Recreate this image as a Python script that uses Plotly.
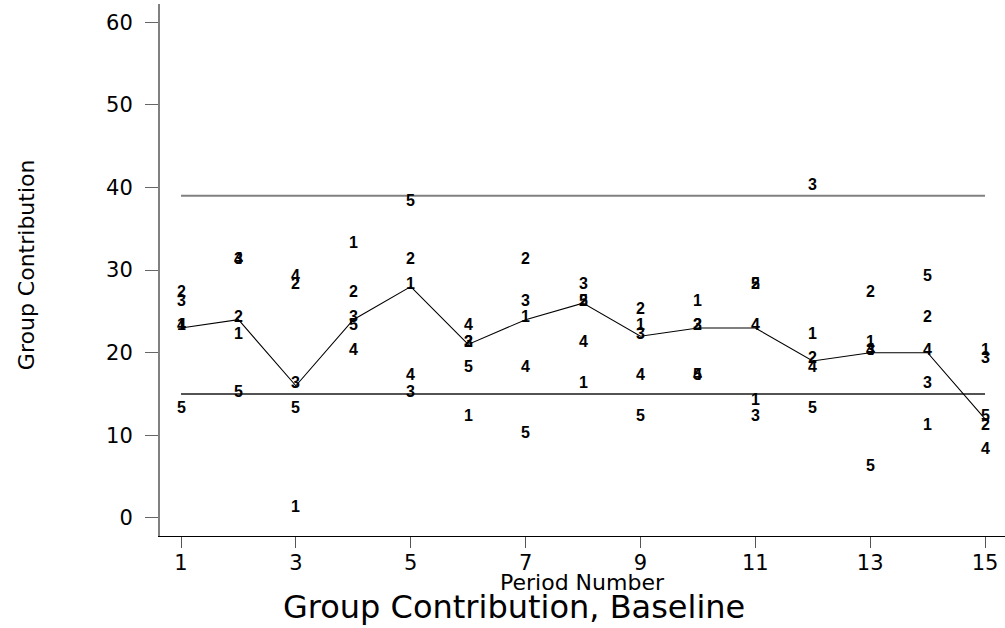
import plotly.graph_objects as go

# ---- data ----
periods = list(range(1, 16))
member_ids = ["1", "2", "3", "4", "5"]
g1 = [23, 22, 1, 33, 28, 12, 24, 16, 23, 26, 14, 22, 21, 11, 20]
g2 = [27, 24, 28, 27, 31, 21, 31, 26, 25, 23, 28, 19, 27, 24, 11]
g3 = [26, 31, 16, 24, 15, 21, 26, 28, 22, 23, 12, 40, 20, 16, 19]
g4 = [23, 31, 29, 20, 17, 23, 18, 21, 17, 17, 23, 18, 20, 20, 8]
g5 = [13, 15, 13, 23, 38, 18, 10, 26, 12, 17, 28, 13, 6, 29, 12]
median_line = [23, 24, 16, 24, 28, 21, 24, 26, 22, 23, 23, 19, 20, 20, 12]
upper_ref = 39
lower_ref = 15
ref_span = [1, 15]
y_ticks = [0, 10, 20, 30, 40, 50, 60]
x_ticks = [1, 3, 5, 7, 9, 11, 13, 15]

groups = [g1, g2, g3, g4, g5]

fig = go.Figure()

# reference lines
fig.add_trace(go.Scatter(x=ref_span, y=[upper_ref, upper_ref], mode="lines",
                         line=dict(color="#808080", width=2), hoverinfo="skip",
                         showlegend=False))
fig.add_trace(go.Scatter(x=ref_span, y=[lower_ref, lower_ref], mode="lines",
                         line=dict(color="#1a1a1a", width=1.4), hoverinfo="skip",
                         showlegend=False))
# median line
fig.add_trace(go.Scatter(x=periods, y=median_line, mode="lines",
                         line=dict(color="black", width=1.1), showlegend=False))

# member labels (placed on the data axes, nudged up a few px like the original)
label_font = dict(family="Liberation Sans", size=16, color="black", weight="bold")
annotations = []
for mid, vals in zip(member_ids, groups):
    for p, v in zip(periods, vals):
        annotations.append(dict(x=p, y=v, xref="x", yref="y", text=mid,
                                showarrow=False, xanchor="center", yanchor="middle",
                                yshift=3, font=label_font))

font_main = "DejaVu Sans"

annotations += [
    dict(text="Group Contribution", xref="paper", yref="paper", x=-0.1586, y=0.511,
         textangle=-90, showarrow=False, xanchor="center", yanchor="middle",
         font=dict(family=font_main, size=22, color="black")),
    dict(text="Period Number", xref="paper", yref="paper", x=0.5, y=-0.0883,
         showarrow=False, xanchor="center", yanchor="middle",
         font=dict(family=font_main, size=22, color="black")),
    dict(text="Group Contribution, Baseline", xref="paper", yref="paper",
         x=0.419, y=-0.1335, showarrow=False, xanchor="center", yanchor="middle",
         font=dict(family=font_main, size=32, color="black")),
]

fig.update_layout(
    width=1005, height=628,
    margin=dict(l=160, r=0, t=4, b=92, pad=0),
    plot_bgcolor="white", paper_bgcolor="white",
    showlegend=False,
    xaxis=dict(range=[0.634, 15.348], tickvals=x_ticks, showgrid=False, zeroline=False,
               showline=True, linecolor="black", linewidth=1.2,
               ticks="outside", ticklen=11, tickwidth=1, tickcolor="#555555",
               tickfont=dict(family=font_main, size=21, color="black"),
               ticklabelstandoff=-3),
    yaxis=dict(range=[-2.18, 62.2], tickvals=y_ticks, showgrid=False, zeroline=False,
               showline=True, linecolor="#808080", linewidth=2,
               ticks="outside", ticklen=13, tickwidth=1, tickcolor="#666666",
               tickfont=dict(family=font_main, size=21, color="black"),
               ticklabelstandoff=8),
    annotations=annotations,
)

fig.write_html("out.html", config={"displayModeBar": False},
               post_script="document.body.style.margin='0';")
